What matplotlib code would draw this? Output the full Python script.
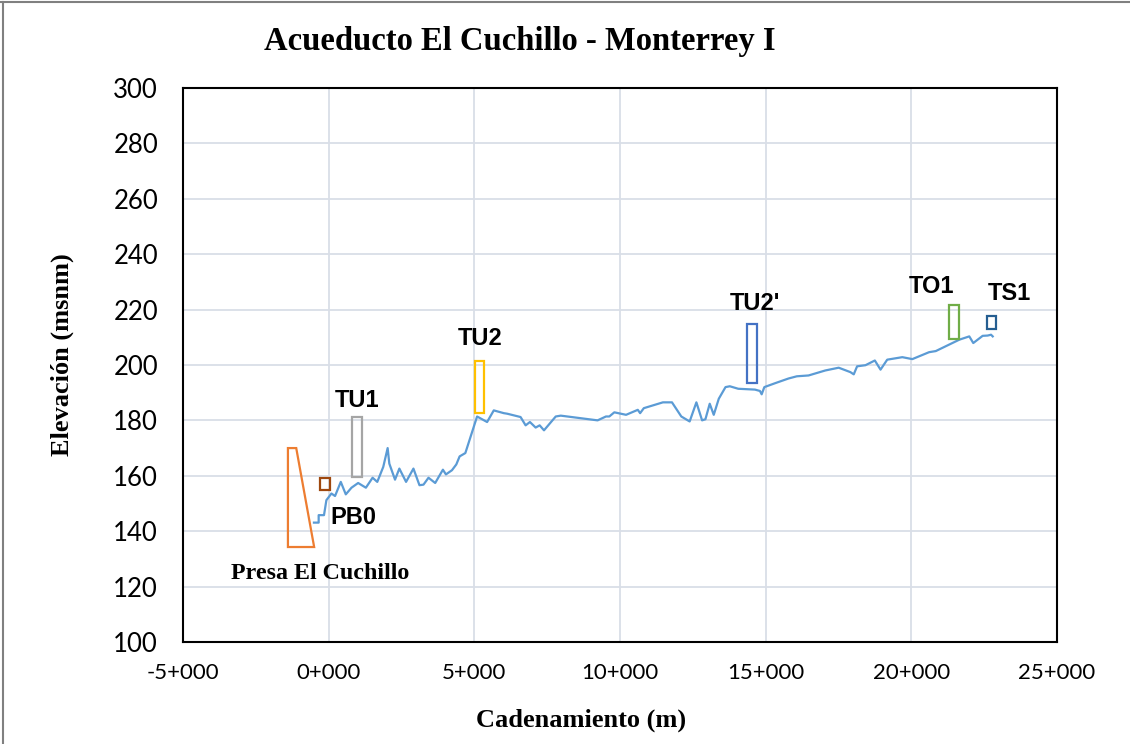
import matplotlib
matplotlib.use("Agg")
import matplotlib.pyplot as plt
from matplotlib.patches import Polygon, Rectangle
from matplotlib.ticker import FuncFormatter, MultipleLocator
from matplotlib.lines import Line2D

# perfil del acueducto (cadenamiento en m, elevacion en msnm)
cad = [-507, -345, -345, -162, -80, 93, 217, 414, 586, 782, 1010, 1276, 1506, 1667,
       1872, 2023, 2080, 2276, 2425, 2655, 2908, 3115, 3253, 3425, 3655, 3920, 4023,
       4230, 4380, 4494, 4690, 5093, 5437, 5666, 6010, 6127, 6586, 6759, 6907, 7103,
       7241, 7390, 7793, 7966, 9230, 9517, 9632, 9804, 10207, 10610, 10690, 10817,
       11472, 11783, 12103, 12390, 12621, 12817, 12931, 13079, 13217, 13390, 13621,
       13769, 14058, 14632, 14804, 14862, 14954, 15321, 15782, 16069, 16472, 17046,
       17506, 17908, 18023, 18138, 18425, 18747, 18942, 19172, 19690, 20034, 20609,
       20839, 21644, 21989, 22126, 22448, 22620, 22735, 22793]
elev = [143.1, 143.1, 145.8, 145.8, 151.2, 153.6, 152.7, 157.8, 153.3, 155.7, 157.4,
        155.7, 159.3, 157.8, 163.2, 170.0, 164.4, 158.6, 162.6, 157.8, 162.6, 156.6,
        156.8, 159.3, 157.4, 162.2, 160.5, 162.0, 164.1, 167.0, 168.2, 181.4, 179.4,
        183.6, 182.6, 182.4, 181.2, 178.2, 179.4, 177.4, 178.2, 176.4, 181.4, 181.7,
        180.0, 181.4, 181.4, 182.9, 182.0, 183.8, 182.6, 184.4, 186.5, 186.5, 181.4,
        179.6, 186.5, 180.0, 180.4, 186.0, 182.0, 187.8, 192.0, 192.3, 191.4, 191.1,
        190.6, 189.4, 192.0, 193.4, 195.1, 195.9, 196.2, 198.0, 199.0, 197.4, 196.6,
        199.5, 199.9, 201.6, 198.3, 201.9, 202.8, 202.1, 204.6, 205.0, 209.1, 210.3,
        207.9, 210.5, 210.6, 210.9, 210.3]

# estructuras: nombre, x0, x1, y0, y1
struct_names = ["PB0", "TU1", "TU2", "TU2'", "TO1", "TS1"]
struct_x0 = [-310, 816, 5034, 14368, 21300, 22586]
struct_x1 = [34, 1126, 5345, 14690, 21620, 22907]
struct_y0 = [155.0, 159.6, 182.8, 193.4, 209.4, 213.0]
struct_y1 = [159.2, 181.2, 201.4, 214.8, 221.5, 217.6]
struct_colors = ["#9E480E", "#A5A5A5", "#FFC000", "#4472C4", "#70AD47", "#255E91"]
label_x = [862, 966, 5207, 14620, 20690, 23380]
label_y = [145.0, 187.2, 209.5, 222.2, 228.3, 225.8]

# cortina de la presa
presa_x = [-1400, -1400, -1115, -500]
presa_y = [134.3, 170.0, 170.0, 134.3]

fig = plt.figure(figsize=(11.3, 7.44), dpi=100)
ax = fig.add_axes([0.162, 0.137, 0.7734, 0.745])

ax.plot(cad, elev, color="#5B9BD5", lw=1.6, zorder=3)

ax.add_patch(Polygon(list(zip(presa_x, presa_y)), closed=True, fill=False,
                     edgecolor="#ED7D31", lw=1.6, zorder=4))
ax.text(-276, 124.9, "Presa El Cuchillo", family="Liberation Serif",
        fontweight="bold", fontsize=17.3, ha="center", va="center")

for name, x0, x1, y0, y1, c, lx, ly in zip(struct_names, struct_x0, struct_x1,
                                           struct_y0, struct_y1, struct_colors,
                                           label_x, label_y):
    ax.add_patch(Rectangle((x0, y0), x1 - x0, y1 - y0, fill=False,
                           edgecolor=c, lw=1.6, zorder=4))
    ax.text(lx, ly, name, family="Liberation Sans", fontweight="bold",
            fontsize=17, ha="center", va="center")

ax.set_xlim(-5000, 25000)
ax.set_ylim(100, 300)
ax.xaxis.set_major_locator(MultipleLocator(5000))
ax.yaxis.set_major_locator(MultipleLocator(20))
ax.xaxis.set_major_formatter(FuncFormatter(lambda v, p: f"{int(v // 1000) if v >= 0 else -int(-v // 1000)}+000"))
ax.grid(True, color="#D9DEE7", lw=1.3)
ax.set_axisbelow(True)
ax.tick_params(axis="x", length=0, pad=15)
ax.tick_params(axis="y", length=0, pad=18)
for lab in ax.get_xticklabels():
    lab.set_family("Lato")
    lab.set_fontsize(16)
for lab in ax.get_yticklabels():
    lab.set_family("Lato")
    lab.set_fontsize(18.5)
for s in ax.spines.values():
    s.set_color("black")
    s.set_linewidth(1.5)

fig.text(0.46, 0.944, "Acueducto El Cuchillo - Monterrey I", family="Liberation Serif",
         fontweight="bold", fontsize=23.5, ha="center", va="center")
fig.text(0.514, 0.032, "Cadenamiento (m)", family="Liberation Serif",
         fontweight="bold", fontsize=19, ha="center", va="center")
fig.text(0.055, 0.523, "Elevación (msnm)", family="Liberation Serif",
         fontweight="bold", fontsize=19, ha="center", va="center", rotation=90)

# marco del area del grafico
fig.add_artist(Line2D([0.0, 1.0], [0.997, 0.997], color="#808080", lw=1.5))
fig.add_artist(Line2D([0.003, 0.003], [0.0, 0.997], color="#808080", lw=1.5))

fig.savefig("out.png", dpi=100)
